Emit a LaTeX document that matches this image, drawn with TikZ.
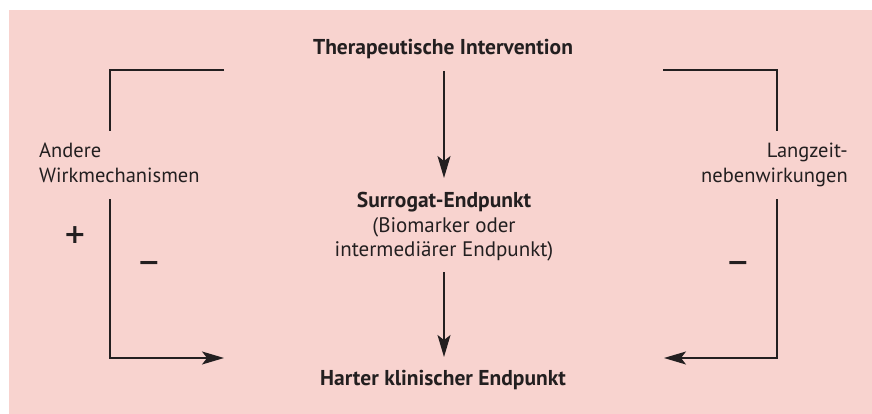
\documentclass[tikz,border=0pt]{standalone}
\usepackage{fontspec}
\setmainfont{PT Sans}
\newfontfamily\signfont{DejaVu Sans}
\usetikzlibrary{arrows.meta}
\definecolor{bgpink}{HTML}{F8D3CF}
\definecolor{ink}{HTML}{231F20}
\begin{document}
\begin{tikzpicture}[x=1pt,y=-1pt,
  conn/.style={draw=ink, line width=1.3pt},
  arr/.style={conn, -{Stealth[length=22pt,width=13pt,inset=5pt]}},
  txt/.style={font=\fontsize{20.5}{25}\selectfont, text=ink, inner sep=0pt, anchor=base},
  btxt/.style={txt, font=\fontsize{21.5}{24.5}\selectfont\bfseries},
  sign/.style={font=\signfont\bfseries\fontsize{27}{27}\selectfont, text=ink, inner sep=0pt}]
\useasboundingbox (0,0) rectangle (872,414);
\fill[bgpink] (9,10) rectangle (872,414);

\node[btxt] (ther) at (443,55) {Therapeutische Intervention};
\node[btxt, align=center] (surr) at (444,256.7) {Surrogat-Endpunkt\\\fontsize{21}{24.5}\selectfont\mdseries(Biomarker oder\\\fontsize{21}{24.5}\selectfont\mdseries intermediärer Endpunkt)};
\node[btxt] (hart) at (443,385) {Harter klinischer Endpunkt};
\node[txt, anchor=base west, align=left] (andere) at (39,182.3) {Andere\\Wirkmechanismen};
\node[txt, anchor=base east, align=right] (lang) at (848,182.3) {Langzeit-\\nebenwirkungen};
\node[sign] (plus) at (75,235) {+};
\node[sign] (minusl) at (149,266) {−};
\node[sign] (minusr) at (738,266) {−};

\coordinate (a1) at (444,71);
\coordinate (a2) at (444,178);
\coordinate (b1) at (444,272);
\coordinate (b2) at (444,357);
\draw[arr] (a1) -- (a2);
\draw[arr] (b1) -- (b2);

\coordinate (l1) at (224,70);
\coordinate (l2) at (110,131);
\coordinate (l3) at (110,199);
\coordinate (l4) at (224,358);
\draw[conn] (l1) -| (l2);
\draw[arr] (l3) |- (l4);

\coordinate (r1) at (663,70);
\coordinate (r2) at (777,131);
\coordinate (r3) at (777,199);
\coordinate (r4) at (664,358);
\draw[conn] (r1) -| (r2);
\draw[arr] (r3) |- (r4);
\end{tikzpicture}
\end{document}
